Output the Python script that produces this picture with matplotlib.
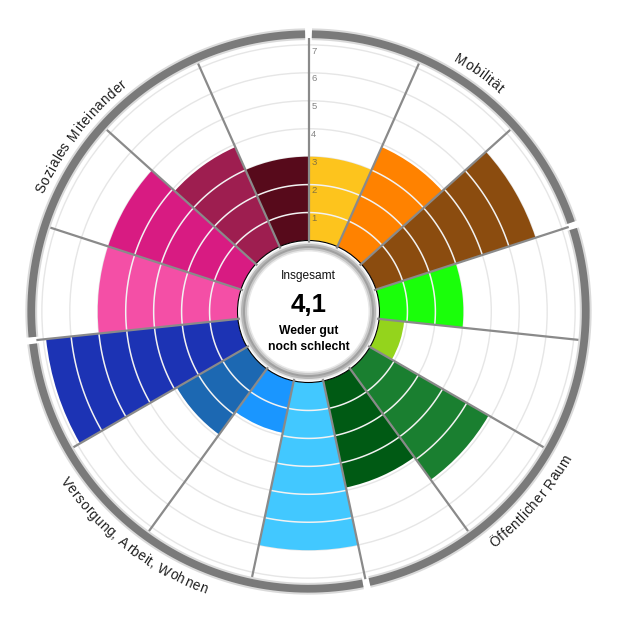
import numpy as np
import matplotlib.pyplot as plt
from matplotlib.patches import Circle
from matplotlib.font_manager import FontProperties, findfont, get_font

# values per sector, clockwise from 12 o'clock
values = [3.0, 3.9, 6.0, 3.0, 0.9, 4.9, 3.9, 6.0, 1.9, 2.9, 6.9, 5.0, 5.0, 3.9, 3.0]
colors = ["#fdc41d", "#ff8200", "#8b4c0f", "#1aff0a", "#94d41c", "#1a7f30",
          "#005a14", "#42c8ff", "#1a96ff", "#1c68b2", "#1c33b4", "#f44fa6",
          "#d81b82", "#9e1e50", "#570a1b"]
group_names = ["Mobilität", "Öffentlicher Raum", "Versorgung, Arbeit, Wohnen", "Soziales Miteinander"]
group_sizes = [3, 4, 4, 4]
label_angles = [35.5, 130.5, 218, 307.5]
radial_ticks = [1, 2, 3, 4, 5, 6, 7]
overall_value = "4,1"
overall_title = "Insgesamt"
overall_text = ["Weder gut", "noch schlecht"]

n = len(values)
step = 2 * np.pi / n
theta = np.arange(n) * step + step / 2

fig = plt.figure(figsize=(6.2, 6.2), dpi=100)
cx, cy = 308.5 / 620, 1 - 311.5 / 620
R = 283.4 / 620
ax = fig.add_axes([cx - R, cy - R, 2 * R, 2 * R], projection="polar")
ax.set_theta_zero_location("N")
ax.set_theta_direction(-1)
ax.set_ylim(0, 7.6)
ax.set_rorigin(-2.54)
ax.set_xticks([])
ax.set_yticks(radial_ticks)
ax.set_yticklabels([])
ax.tick_params(axis="y", length=0)
ax.yaxis.grid(True, color="#e6e6e6", lw=1)
ax.set_axisbelow(True)
for s in ax.spines.values():
    s.set_visible(False)

ax.bar(theta, values, width=step, bottom=0, color=colors, zorder=2, linewidth=0)

# white segment lines inside the bars
for i, v in enumerate(values):
    for k in radial_ticks:
        if k < v - 0.05:
            th = np.linspace(i * step, (i + 1) * step, 30)
            ax.plot(th, np.full_like(th, k), color="#f2f2f2", lw=1.1, zorder=3)

# sector separators
for i in range(n):
    ax.plot([i * step, i * step], [-0.1, 7.25], color="#8a8a8a", lw=1.6,
            zorder=4, solid_capstyle="butt", clip_on=False)

# tick labels along the top line
for k in radial_ticks:
    ax.annotate(str(k), xy=(0, k), xytext=(2, -1.2), textcoords="offset points",
                ha="left", va="top", fontsize=6.8, color="#505050", alpha=0.7,
                family="Liberation Sans", zorder=6)

# outer ring in four pieces
bounds = np.cumsum([0] + group_sizes) * step
gap = np.deg2rad(0.7)
for a, b in zip(bounds[:-1], bounds[1:]):
    th = np.linspace(a + gap, b - gap, 200)
    ax.plot(th, np.full_like(th, 7.38), color="#dadada", lw=8.5, zorder=5,
            solid_capstyle="butt", clip_on=False)
    ax.plot(th, np.full_like(th, 7.38), color="#7a7a7a", lw=5.6, zorder=6,
            solid_capstyle="butt", clip_on=False)

# curved group labels, one character at a time
fs = 9.8
font = get_font(findfont(FontProperties(family="Liberation Sans")))
font.set_size(fs, 100)

def metrics(ch):
    g = font.load_char(ord(ch))
    return g.linearHoriAdvance / 65536, g.horiBearingX / 64, g.width / 64

scale_px = 283.4 / (7.6 + 2.54)
spacing = 0.6
for name, ang in zip(group_names, label_angles):
    top = ang < 90 or ang > 270
    r_unit = 7.82 if top else 8.22
    r_px = (r_unit + 2.54) * scale_px
    x = 0.0
    centers = []
    for ch in name:
        adv, bx, w = metrics(ch)
        centers.append(x + bx + w / 2 if w > 0 else x + adv / 2)
        x += adv + spacing
    total = x - spacing
    for ch, c in zip(name, centers):
        if ch == " ":
            continue
        off = np.rad2deg((c - total / 2) / r_px)
        if top:
            a = ang + off
            rot = -a
        else:
            a = ang - off
            rot = 180 - a
        ax.text(np.deg2rad(a), r_unit, ch, rotation=rot, rotation_mode="anchor",
                ha="center", va="baseline", fontsize=fs, color="#1e1e1e",
                family="Liberation Sans", clip_on=False)

# center disk
for rad, col in [(69, "#e4e4e4"), (67.5, "#b8b8b8"), (65.5, "#a0a0a0"),
                 (63.5, "#c8c8c8"), (61.5, "#e8e8e8"), (60, "white")]:
    fig.add_artist(Circle((cx, cy), rad / 620, transform=fig.transFigure,
                          facecolor=col, edgecolor="none", zorder=2))

fig.text(cx, 1 - 279.3 / 620, overall_title, ha="center", va="baseline",
         fontsize=8.6, family="Liberation Sans", color="#111111", zorder=4)
fig.text(cx, 1 - 311.7 / 620, overall_value, ha="center", va="baseline",
         fontsize=18.6, weight="bold", family="Liberation Sans", color="black", zorder=4)
fig.text(cx, 1 - 334 / 620, overall_text[0], ha="center", va="baseline",
         fontsize=8.7, weight="bold", family="Liberation Sans", color="black", zorder=4)
fig.text(cx, 1 - 350 / 620, overall_text[1], ha="center", va="baseline",
         fontsize=8.7, weight="bold", family="Liberation Sans", color="black", zorder=4)

fig.savefig("out.png", dpi=100, facecolor="white")
